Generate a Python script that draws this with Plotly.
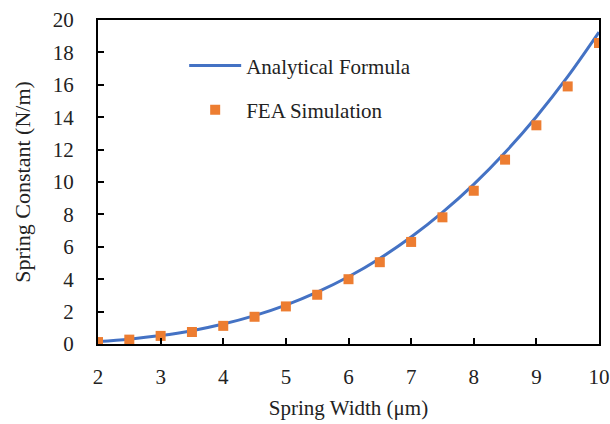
import plotly.graph_objects as go

# Data
width_analytical = [2, 2.5, 3, 3.5, 4, 4.5, 5, 5.5, 6, 6.5, 7, 7.5, 8, 8.5, 9, 9.5, 10]
k_analytical = [0.15, 0.30, 0.52, 0.82, 1.23, 1.75, 2.40, 3.20, 4.15, 5.28, 6.60, 8.12, 9.85, 11.82, 14.03, 16.50, 19.25]

width_fea = [2, 2.5, 3, 3.5, 4, 4.5, 5, 5.5, 6, 6.5, 7, 7.5, 8, 8.5, 9, 9.5, 10]
k_fea = [0.12, 0.27, 0.50, 0.74, 1.12, 1.68, 2.32, 3.04, 4.00, 5.05, 6.30, 7.82, 9.46, 11.38, 13.50, 15.90, 18.58]

x_ticks = [2, 3, 4, 5, 6, 7, 8, 9, 10]
y_ticks = [0, 2, 4, 6, 8, 10, 12, 14, 16, 18, 20]

FONT = "Liberation Serif, Times New Roman, serif"

fig = go.Figure()
fig.add_trace(go.Scatter(
    x=width_analytical, y=k_analytical, mode="lines", name="Analytical Formula",
    line=dict(color="#4472C4", width=3, shape="spline"), legendgroup="a",
))
fig.add_trace(go.Scatter(
    x=width_fea, y=k_fea, mode="markers", name="FEA Simulation",
    marker=dict(color="#ED7D31", symbol="square", size=10), legendgroup="b",
))

fig.update_layout(
    width=610, height=424,
    margin=dict(l=98, r=11, t=20, b=80, autoexpand=False),
    paper_bgcolor="white", plot_bgcolor="white",
    font=dict(family=FONT, size=20, color="#222222"),
    legend=dict(x=0.172, y=0.922, xanchor="left", yanchor="top",
                bgcolor="rgba(0,0,0,0)", tracegroupgap=14, itemwidth=52,
                font=dict(family=FONT, size=21, color="#222222"),
                traceorder="grouped"),
    xaxis=dict(
        range=[2, 10], tickvals=x_ticks, ticks="inside", ticklen=6, tickwidth=2,
        tickcolor="black", showline=True, linecolor="black", linewidth=2,
        mirror=True, showgrid=False, zeroline=False, ticklabelstandoff=13,
        tickfont=dict(size=21), automargin=False,
        title=dict(text="Spring Width (μm)", standoff=12, font=dict(size=21)),
    ),
    yaxis=dict(
        range=[0, 20], tickvals=y_ticks, ticks="inside", ticklen=6, tickwidth=2,
        tickcolor="black", showline=True, linecolor="black", linewidth=2,
        mirror=True, showgrid=False, zeroline=False, ticklabelstandoff=18,
        tickfont=dict(size=21), automargin=False,
        title=dict(text="Spring Constant (N/m)", standoff=16, font=dict(size=22)),
    ),
)

fig.write_html("out.html")
